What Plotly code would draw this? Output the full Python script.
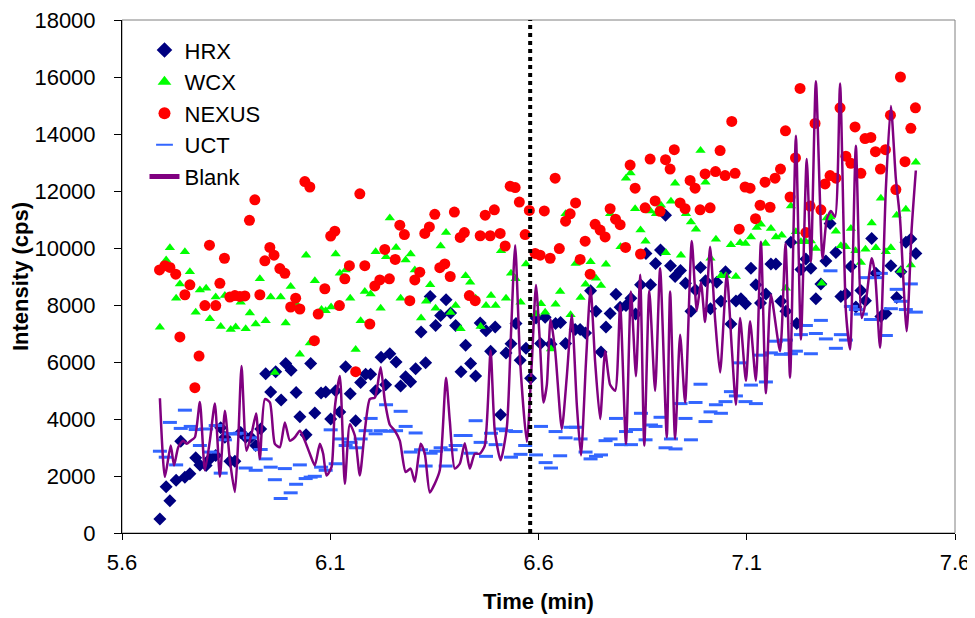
import plotly.graph_objects as go

# HRX (navy diamonds)
hrx_t = [5.691, 5.706, 5.715, 5.730, 5.741, 5.751, 5.763, 5.777, 5.787, 5.802, 5.811, 5.825, 5.837, 5.847,
         5.859, 5.871, 5.885, 5.897, 5.909, 5.921, 5.933, 5.945, 5.957, 5.969, 5.982, 5.993, 6.006, 6.018,
         6.027, 6.042, 6.053, 6.063, 6.078, 6.089, 6.101, 6.113, 6.123, 6.137, 6.148, 6.161, 6.173, 6.185,
         6.197, 6.209, 6.222, 6.233, 6.243, 6.258, 6.269, 6.281, 6.293, 6.305, 6.318, 6.329, 6.340, 6.353,
         6.365, 6.378, 6.389, 6.401, 6.414, 6.425, 6.437, 6.449, 6.460, 6.474, 6.485, 6.496, 6.509, 6.522,
         6.534, 6.546, 6.556, 6.570, 6.581, 6.594, 6.605, 6.616, 6.630, 6.641, 6.653, 6.665, 6.688, 6.700,
         6.713, 6.725, 6.738, 6.750, 6.762, 6.772, 6.786, 6.796, 6.810, 6.822, 6.833, 6.845, 6.858, 6.869,
         6.881, 6.893, 6.905, 6.917, 6.928, 6.941, 6.953, 6.966, 6.977, 6.989, 7.001, 7.013, 7.028, 7.038,
         7.049, 7.062, 7.074, 7.086, 7.097, 7.110, 7.122, 7.133, 7.146, 7.158, 7.170, 7.182, 7.194, 7.206,
         7.220, 7.230, 7.242, 7.254, 7.266, 7.278, 7.290, 7.300, 7.314, 7.326, 7.338, 7.350, 7.362, 7.374,
         7.385, 7.400, 7.410, 7.422, 7.434, 7.446, 7.460, 7.470, 7.482, 7.494, 7.506]
hrx_v = [490, 1620, 1130, 1850, 3220, 1960, 2080, 2640, 2390, 2370, 2600, 2720, 3690, 3360,
         2520, 2520, 3530, 3360, 3360, 3070, 3650, 5590, 4950, 5660, 4670, 5950, 5710, 4930,
         4080, 3450, 5950, 4210, 4910, 4950, 4000, 4990, 4250, 5830, 4890, 3940, 5280, 5570,
         5570, 4990, 6170, 5200, 6290, 6000, 5160, 5480, 5310, 5760, 7050, 5970, 8300, 7280,
         7630, 8180, 7720, 7280, 5660, 6590, 5950, 5510, 7370, 7100, 6380, 7230, 4150, 6320,
         6640, 7350, 6060, 6480, 5430, 7540, 6650, 7570, 6620, 7350, 7390, 6650, 7140, 7140,
         7020, 8500, 7780, 6350, 7230, 7700, 8380, 7920, 7980, 8240, 7680, 8710, 9810, 8710,
         9460, 9930, 11150, 9380, 9000, 9210, 8760, 7780, 8530, 9320, 8850, 7870, 8800, 8130,
         9170, 7330, 8140, 8220, 8040, 9290, 8710, 8070, 8390, 9440, 9440, 8130, 7780, 10200,
         7350, 9250, 9610, 9290, 8220, 8740, 9540, 10860, 9840, 8300, 8390, 9350, 7930, 8510,
         8150, 10330, 9110, 7600, 7700, 9380, 8260, 9170, 10200, 10320, 9810]

# WCX (green triangles)
wcx_t = [5.691, 5.706, 5.715, 5.730, 5.739, 5.751, 5.763, 5.777, 5.787, 5.802, 5.811, 5.825, 5.837, 5.847,
         5.861, 5.873, 5.885, 5.897, 5.907, 5.921, 5.931, 5.945, 5.957, 5.967, 5.981, 5.993, 6.005, 6.017,
         6.027, 6.042, 6.051, 6.063, 6.079, 6.089, 6.102, 6.113, 6.123, 6.137, 6.148, 6.161, 6.173, 6.183,
         6.197, 6.209, 6.221, 6.234, 6.243, 6.258, 6.269, 6.281, 6.293, 6.303, 6.318, 6.330, 6.340, 6.353,
         6.365, 6.378, 6.389, 6.401, 6.413, 6.425, 6.436, 6.449, 6.461, 6.474, 6.486, 6.497, 6.510, 6.522,
         6.534, 6.545, 6.557, 6.570, 6.594, 6.606, 6.616, 6.630, 6.641, 6.652, 6.665, 6.677, 6.689, 6.701,
         6.713, 6.725, 6.738, 6.750, 6.762, 6.772, 6.797, 6.810, 6.821, 6.832, 6.845, 6.857, 6.869, 6.882,
         6.894, 6.906, 6.918, 6.928, 6.942, 6.954, 6.966, 6.978, 6.989, 7.001, 7.013, 7.026, 7.038, 7.050,
         7.062, 7.074, 7.084, 7.097, 7.110, 7.124, 7.134, 7.145, 7.158, 7.170, 7.184, 7.194, 7.206, 7.218,
         7.230, 7.242, 7.254, 7.266, 7.280, 7.292, 7.301, 7.314, 7.326, 7.338, 7.350, 7.361, 7.374, 7.385,
         7.400, 7.410, 7.422, 7.434, 7.446, 7.460, 7.470, 7.482, 7.494, 7.506]
wcx_v = [7220, 9580, 10010, 8240, 8740, 9870, 9170, 7750, 8530, 8590, 7520, 8280, 7250, 8330,
         7140, 7230, 8100, 7170, 7720, 7330, 8920, 7450, 8280, 5630, 8280, 7370, 8650, 8070,
         6270, 9750, 6670, 8850, 7840, 7800, 7930, 9790, 9110, 9230, 8240, 6440, 7450, 8470,
         8390, 9870, 7890, 9690, 11050, 10020, 8240, 9580, 9790, 9230, 7540, 8130, 8710, 7890,
         10070, 10540, 7740, 7980, 7170, 9030, 8800, 8240, 7250, 7980, 8330, 7980, 9900, 8240,
         9110, 8920, 8100, 9440, 7680, 8040, 7750, 6460, 8030, 8470, 11200, 7660, 9460, 8260,
         8730, 9520, 8940, 8680, 9430, 11200, 10040, 12450, 12630, 11380, 10630, 10240, 11300, 11200,
         11500, 9830, 11640, 12270, 9750, 11200, 10910, 10660, 13420, 12310, 9640, 10310, 9030, 9030,
         10110, 9000, 10180, 10160, 10390, 10720, 10830, 10160, 10680, 10390, 10450, 8590, 11470, 10570,
         10220, 10220, 10250, 9980, 8760, 11050, 11090, 10590, 10080, 10040, 10680, 9900, 9490, 9960,
         10880, 10010, 11750, 9870, 10010, 11150, 9210, 11360, 9400, 13010]

# NEXUS (red circles)
nexus_t = [5.690, 5.703, 5.715, 5.729, 5.739, 5.751, 5.763, 5.775, 5.785, 5.799, 5.810, 5.825, 5.835, 5.846,
           5.859, 5.871, 5.883, 5.895, 5.906, 5.919, 5.931, 5.943, 5.955, 5.965, 5.979, 5.991, 6.005, 6.017,
           6.027, 6.039, 6.051, 6.062, 6.071, 6.087, 6.101, 6.111, 6.122, 6.135, 6.146, 6.161, 6.171, 6.183,
           6.195, 6.207, 6.219, 6.231, 6.242, 6.256, 6.267, 6.278, 6.291, 6.303, 6.315, 6.327, 6.338, 6.351,
           6.363, 6.375, 6.388, 6.398, 6.412, 6.422, 6.434, 6.448, 6.460, 6.472, 6.484, 6.494, 6.508, 6.520,
           6.532, 6.544, 6.554, 6.568, 6.578, 6.592, 6.604, 6.614, 6.628, 6.640, 6.650, 6.665, 6.676, 6.689,
           6.700, 6.712, 6.724, 6.736, 6.748, 6.760, 6.772, 6.785, 6.796, 6.809, 6.820, 6.832, 6.845, 6.856,
           6.868, 6.880, 6.892, 6.905, 6.916, 6.926, 6.940, 6.952, 6.964, 6.976, 6.988, 7.000, 7.012, 7.025,
           7.036, 7.048, 7.064, 7.072, 7.082, 7.096, 7.108, 7.121, 7.132, 7.144, 7.156, 7.168, 7.181, 7.193,
           7.204, 7.217, 7.228, 7.242, 7.252, 7.264, 7.278, 7.288, 7.300, 7.314, 7.324, 7.338, 7.350, 7.360,
           7.374, 7.384, 7.398, 7.409, 7.421, 7.433, 7.445, 7.458, 7.469, 7.480, 7.494, 7.505]
nexus_v = [9230, 9380, 9320, 9080, 6880, 8360, 8710, 5100, 6210, 7980, 10100, 7980, 8760, 9640,
           8280, 8330, 8300, 8320, 10970, 11690, 8360, 9550, 10020, 9750, 9280, 9110, 7930, 8240,
           7860, 12330, 12140, 6750, 7680, 8570, 10420, 10590, 7980, 8920, 9380, 5660, 11900, 9380,
           7330, 8670, 8880, 9950, 8920, 9600, 10800, 10470, 8150, 8880, 9150, 10510, 10740, 11180,
           9310, 9440, 9000, 11260, 10370, 10540, 8330, 8150, 10430, 11150, 10430, 11340, 10510, 10070,
           12170, 12120, 11610, 10470, 11320, 9810, 9750, 11300, 9640, 12450, 9980, 10940, 11200, 11580,
           9600, 10240, 9080, 10830, 10630, 10390, 11380, 11010, 10820, 10020, 12910, 12100, 9790, 11410,
           13120, 11650, 11290, 13100, 12770, 13450, 11580, 11380, 12370, 12100, 11340, 12600, 11410, 12680,
           13420, 12540, 14440, 12620, 10660, 12140, 12100, 11030, 11500, 12310, 11430, 12450, 12770, 14110,
           11790, 13160, 15600, 10540, 11470, 14370, 11340, 12250, 12540, 12450, 14920, 13220, 12970, 14250,
           12620, 13840, 13880, 13380, 12770, 13450, 14660, 12050, 16000, 13030, 14200, 14920]

# UCT (blue dashes)
uct_t = [5.691, 5.705, 5.715, 5.730, 5.741, 5.751, 5.765, 5.777, 5.787, 5.802, 5.813, 5.825, 5.837, 5.847,
         5.859, 5.871, 5.883, 5.897, 5.907, 5.921, 5.933, 5.945, 5.957, 5.967, 5.981, 5.991, 6.005, 6.018,
         6.027, 6.041, 6.053, 6.063, 6.078, 6.089, 6.101, 6.113, 6.125, 6.137, 6.149, 6.162, 6.173, 6.185,
         6.197, 6.209, 6.221, 6.234, 6.243, 6.258, 6.269, 6.281, 6.293, 6.305, 6.318, 6.329, 6.341, 6.354,
         6.365, 6.377, 6.389, 6.401, 6.413, 6.425, 6.437, 6.449, 6.461, 6.474, 6.486, 6.497, 6.510, 6.522,
         6.534, 6.545, 6.557, 6.568, 6.594, 6.606, 6.617, 6.630, 6.641, 6.652, 6.665, 6.677, 6.690, 6.701,
         6.713, 6.725, 6.738, 6.750, 6.761, 6.773, 6.786, 6.798, 6.810, 6.822, 6.833, 6.846, 6.857, 6.870,
         6.881, 6.893, 6.905, 6.918, 6.929, 6.941, 6.953, 6.966, 6.977, 6.989, 7.001, 7.013, 7.026, 7.038,
         7.049, 7.062, 7.074, 7.084, 7.097, 7.110, 7.122, 7.134, 7.146, 7.158, 7.170, 7.182, 7.194, 7.206,
         7.218, 7.230, 7.242, 7.254, 7.266, 7.278, 7.290, 7.301, 7.314, 7.326, 7.338, 7.350, 7.362, 7.374,
         7.386, 7.398, 7.410, 7.422, 7.434, 7.446, 7.460, 7.470, 7.482, 7.494, 7.506]
uct_v = [2870, 2660, 3880, 2390, 3670, 4310, 3740, 3630, 3070, 3650, 2840, 3770, 2100, 3270,
         3480, 3480, 3500, 2280, 3340, 2200, 2930, 2600, 2310, 1870, 1210, 2260, 1410, 1710,
         2390, 1910, 1960, 1990, 2310, 2200, 3620, 2430, 3300, 3070, 3180, 2990, 3300, 3590,
         4020, 3480, 3590, 4500, 3570, 3590, 4270, 3740, 2840, 3510, 2920, 2350, 2800, 2870,
         2990, 2350, 2920, 3070, 3420, 3420, 2800, 3940, 3180, 2690, 3500, 3100, 3650, 3590,
         2660, 3560, 2760, 3070, 2740, 3740, 2470, 2280, 3560, 2710, 3340, 3710, 3710, 3300,
         2840, 2600, 2690, 2740, 3240, 3300, 4020, 3100, 3560, 3100, 3630, 4200, 3270, 3790,
         3740, 4060, 2990, 3300, 2950, 4540, 4020, 3270, 4580, 5220, 3910, 4250, 4500, 4200,
         4610, 4960, 4810, 5970, 4610, 5190, 4540, 6240, 5300, 6320, 6730, 6270, 6770, 6290,
         6380, 6960, 7280, 6290, 7000, 7460, 6810, 9200, 6480, 6960, 6770, 7950, 7840, 7680,
         8960, 7490, 8960, 9110, 6930, 7870, 8550, 8130, 7840, 8740, 7750]

# Blank (purple line)
blank_t = [5.691, 5.703, 5.717, 5.725, 5.735, 5.747, 5.755, 5.765, 5.775, 5.787, 5.799, 5.811, 5.823, 5.835,
           5.847, 5.859, 5.871, 5.879, 5.887, 5.899, 5.911, 5.922, 5.931, 5.943, 5.955, 5.967, 5.979, 5.991,
           6.003, 6.015, 6.027, 6.039, 6.051, 6.063, 6.075, 6.083, 6.091, 6.103, 6.111, 6.123, 6.135, 6.147,
           6.159, 6.171, 6.183, 6.195, 6.207, 6.221, 6.231, 6.243, 6.255, 6.267, 6.281, 6.293, 6.303, 6.317,
           6.327, 6.339, 6.351, 6.363, 6.378, 6.387, 6.399, 6.411, 6.423, 6.435, 6.447, 6.459, 6.471, 6.485,
           6.495, 6.509, 6.524, 6.534, 6.544, 6.556, 6.572, 6.584, 6.594, 6.604, 6.612, 6.620, 6.629, 6.640,
           6.656, 6.668, 6.680, 6.692, 6.702, 6.714, 6.725, 6.736, 6.748, 6.760, 6.772, 6.784, 6.796, 6.810,
           6.822, 6.834, 6.844, 6.854, 6.866, 6.880, 6.892, 6.908, 6.916, 6.928, 6.940, 6.952, 6.968, 6.980,
           6.990, 7.000, 7.012, 7.024, 7.036, 7.052, 7.064, 7.074, 7.084, 7.098, 7.108, 7.122, 7.134, 7.146,
           7.158, 7.180, 7.193, 7.204, 7.218, 7.230, 7.244, 7.254, 7.266, 7.282, 7.292, 7.302, 7.312, 7.324,
           7.338, 7.348, 7.362, 7.376, 7.386, 7.400, 7.408, 7.420, 7.434, 7.446, 7.458, 7.468, 7.484, 7.496,
           7.506]
blank_v = [4730, 1970, 3070, 2370, 3010, 3240, 3130, 3240, 3360, 4600, 2200, 3240, 4540, 1970,
           4290, 2550, 1440, 3240, 5860, 2890, 3480, 4190, 2600, 4700, 4580, 3130, 3010, 3880,
           3240, 3360, 3590, 3240, 2780, 2370, 3130, 2780, 2020, 2310, 4400, 5510, 1730, 3820,
           3420, 2020, 3590, 4700, 4750, 5820, 4640, 3800, 3590, 3240, 2140, 2260, 1800, 3130,
           2780, 1420, 1730, 2200, 5450, 3940, 2260, 2430, 3150, 2260, 2780, 2780, 3070, 6400,
           3590, 2550, 3710, 7000, 10100, 6000, 3200, 6000, 8700, 6500, 4580, 5200, 7500, 6400,
           3650, 5500, 7660, 4500, 2720, 6000, 8600, 6000, 4000, 6380, 5200, 4990, 8010, 3130,
           8470, 5500, 9060, 3070, 8500, 4990, 9290, 3360, 8470, 3300, 6960, 4580, 10250, 7800,
           8800, 7400, 10040, 7500, 5630, 9100, 6500, 4500, 7540, 5340, 7430, 5340, 10220, 4900,
           8360, 6380, 10160, 5450, 13940, 6790, 13120, 9520, 15850, 9640, 11000, 11300, 11100, 15770,
           7780, 6440, 13590, 7540, 8130, 9640, 9100, 6500, 12080, 14980, 12430, 11030, 7080, 10680,
           12720]

marker_time = 6.58

font = "Arial, Liberation Sans, sans-serif"

fig = go.Figure()
fig.add_trace(go.Scatter(x=hrx_t, y=hrx_v, mode="markers", name="HRX",
                         marker=dict(symbol="diamond", size=10, color="#000080")))
fig.add_trace(go.Scatter(x=wcx_t, y=wcx_v, mode="markers", name="WCX",
                         marker=dict(symbol="triangle-up", size=9, color="#00FF00")))
fig.add_trace(go.Scatter(x=nexus_t, y=nexus_v, mode="markers", name="NEXUS",
                         marker=dict(symbol="circle", size=11, color="#FF0000")))
fig.add_trace(go.Scatter(x=uct_t, y=uct_v, mode="markers", name="UCT",
                         marker=dict(symbol="line-ew", size=10, color="#3366FF",
                                     line=dict(width=3, color="#3366FF"))))
fig.add_trace(go.Scatter(x=blank_t, y=blank_v, mode="lines", name="Blank",
                         line=dict(color="#800080", width=2.5, shape="spline", smoothing=0.6)))

# dotted marker line
fig.add_shape(type="line", x0=marker_time, x1=marker_time, y0=0, y1=18000,
              xref="x", yref="y", line=dict(color="black", width=4, dash="dot"), layer="above")
# plot area border
fig.add_shape(type="rect", x0=0, x1=1, y0=0, y1=1, xref="paper", yref="paper",
              line=dict(color="#808080", width=1), layer="below")

fig.update_layout(
    width=975, height=618,
    margin=dict(l=114, r=28, t=12, b=93),
    paper_bgcolor="white", plot_bgcolor="white",
    font=dict(family=font, size=22, color="black"),
    showlegend=True,
    legend=dict(x=0.027, y=0.982, xanchor="left", yanchor="top", bgcolor="rgba(0,0,0,0)",
                font=dict(size=22), itemsizing="constant", tracegroupgap=0),
    xaxis=dict(range=[5.6, 7.6], tick0=5.6, dtick=0.5, showgrid=False, zeroline=False,
               showline=True, linecolor="black", linewidth=1, ticks="outside", ticklen=6,
               tickcolor="black", tickformat=".1f", automargin=False, ticklabelstandoff=4,
               ticklabeloverflow="allow",
               title=dict(text="<b>Time (min)</b>", font=dict(size=22), standoff=19)),
    yaxis=dict(range=[0, 18000], dtick=2000, showgrid=False, zeroline=False,
               showline=True, linecolor="black", linewidth=1, ticks="outside", ticklen=7,
               tickcolor="black", tickformat="d", automargin=False, ticklabelstandoff=14,
               ticklabeloverflow="allow",
               title=dict(text="<b>Intensity (cps)</b>", font=dict(size=22), standoff=6)),
)

fig.write_html("out.html")
